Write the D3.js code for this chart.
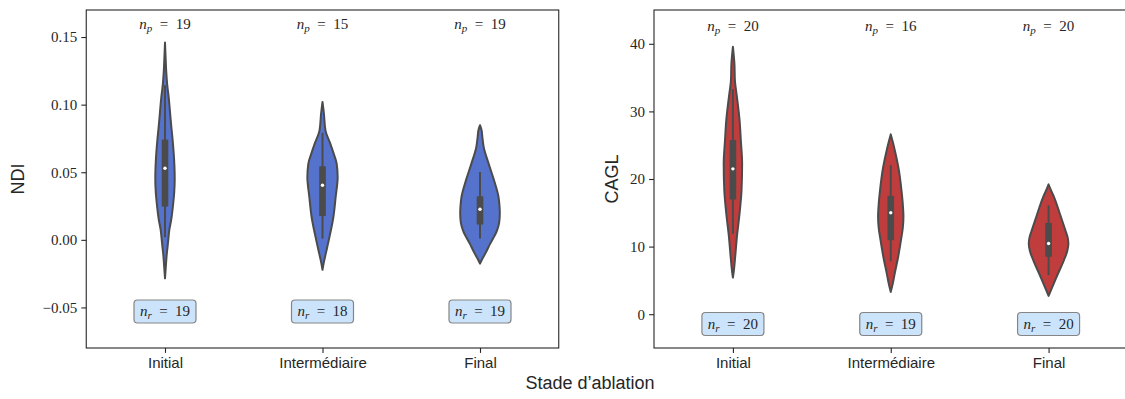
<!DOCTYPE html>
<html>
<head>
<meta charset="utf-8">
<script src="https://cdn.jsdelivr.net/npm/d3@7"></script>
<style>
  body { margin: 0; background: #fff; }
  svg { display: block; }
</style>
</head>
<body>
<script>
// categories and counts
var stages = ["Initial", "Intermédiaire", "Final"];
var ndiNp = [19, 15, 19];
var ndiNr = [19, 18, 19];
var caglNp = [20, 16, 20];
var caglNr = [20, 19, 20];

// violin outlines: [value, relative density]
var ndiInitial = [[0.146,0],[0.135,0.03],[0.125,0.06],[0.115,0.11],[0.105,0.19],[0.095,0.25],[0.085,0.31],[0.074,0.385],[0.065,0.435],[0.055,0.475],[0.045,0.49],[0.035,0.465],[0.025,0.40],[0.015,0.315],[0.007,0.215],[0,0.165],[-0.005,0.13],[-0.012,0.08],[-0.02,0.04],[-0.0285,0]];
var ndiInter = [[0.102,0],[0.0935,0.07],[0.081,0.15],[0.0713,0.39],[0.0638,0.565],[0.0564,0.715],[0.0465,0.765],[0.0317,0.665],[0.0169,0.55],[0.002,0.35],[-0.0102,0.165],[-0.016,0.075],[-0.0221,0]];
var ndiFinal = [[0.0848,0],[0.081,0.08],[0.076,0.12],[0.0687,0.185],[0.0564,0.435],[0.044,0.71],[0.0317,0.935],[0.025,0.985],[0.0194,1.0],[0.013,0.97],[0.007,0.86],[-0.0028,0.515],[-0.0102,0.265],[-0.014,0.12],[-0.0176,0]];
var caglInitial = [[39.56,0],[37.1,0.075],[34.6,0.10],[32.2,0.2],[28.7,0.335],[25.7,0.40],[22.3,0.465],[18.35,0.435],[14.9,0.335],[11.4,0.2],[8.5,0.115],[6.5,0.05],[5.43,0]];
var caglInter = [[26.6,0],[25.5,0.1],[24.3,0.2],[21.3,0.41],[18.35,0.54],[16.2,0.61],[14.4,0.64],[12.8,0.61],[11.4,0.54],[8.5,0.375],[6.0,0.2],[4.5,0.1],[3.3,0]];
var caglFinal = [[19.2,0],[18.3,0.125],[17.4,0.265],[14.9,0.565],[12.4,0.85],[11.4,0.96],[10.46,1.0],[9.3,0.94],[8.0,0.775],[5.5,0.4],[4.04,0.19],[2.7,0]];

// inner box stats
var ndiQ1 = [0.0246, 0.0176, 0.0113];
var ndiMedian = [0.053, 0.0404, 0.0226];
var ndiQ3 = [0.0742, 0.0544, 0.0322];
var ndiWhiskLo = [0.002, 0.0009, 0.0009];
var ndiWhiskHi = [0.1144, 0.0791, 0.0502];
var caglQ1 = [16.97, 10.95, 8.5];
var caglMedian = [21.5, 15.0, 10.45];
var caglQ3 = [25.75, 17.5, 13.5];
var caglWhiskLo = [11.9, 7.84, 5.77];
var caglWhiskHi = [33.3, 22.05, 16.1];

var ndiTicks = [-0.05, 0, 0.05, 0.10, 0.15];
var caglTicks = [0, 10, 20, 30, 40];

var W = 1125, H = 399;
var ink = "#262626", edge = "#4b4b4b";

var svg = d3.select("body").append("svg")
    .attr("width", W)
    .attr("height", H);

var panels = [
  { left: 86.25, right: 558.75, top: 10, bottom: 348, domain: [-0.08, 0.17], ticks: ndiTicks, fmt: d3.format(".2f"),
    label: "NDI", labelX: 18, fill: "#5573cd", profiles: [ndiInitial, ndiInter, ndiFinal],
    q1: ndiQ1, med: ndiMedian, q3: ndiQ3, lo: ndiWhiskLo, hi: ndiWhiskHi, np: ndiNp, nr: ndiNr,
    npY: 28.5, nrY: -0.053 },
  { left: 654, right: 1127.5, top: 10, bottom: 348, domain: [-5, 45], ticks: caglTicks, fmt: d3.format("d"),
    label: "CAGL", labelX: 612, fill: "#c03d3e", profiles: [caglInitial, caglInter, caglFinal],
    q1: caglQ1, med: caglMedian, q3: caglQ3, lo: caglWhiskLo, hi: caglWhiskHi, np: caglNp, nr: caglNr,
    npY: 30.7, nrY: -1.45 }
];

// math-like "n_sub = value"
function mathLabel(sel, sub, value) {
  sel.append("tspan").attr("font-style", "italic").text("n");
  sel.append("tspan").attr("font-style", "italic").attr("font-size", "11px").attr("dy", 3.5).text(sub);
  sel.append("tspan").attr("dy", -3.5).text("\u2002=\u2002" + value);
}

panels.forEach(function(p) {
  var x = d3.scalePoint().domain(stages).range([p.left, p.right]).padding(0.5);
  var y = d3.scaleLinear().domain(p.domain).range([p.bottom, p.top]);
  var w = d3.scaleLinear().domain([0, 1]).range([0, 19.8]);

  var g = svg.append("g");

  // y axis
  var ya = g.append("g")
      .attr("transform", "translate(" + p.left + ",0)")
      .call(d3.axisLeft(y).tickValues(p.ticks).tickFormat(p.fmt).tickSize(4.9).tickPadding(4.2));
  ya.select(".domain").remove();
  ya.selectAll("line").attr("stroke", ink).attr("stroke-width", 1.1);
  ya.selectAll("text").attr("fill", ink).attr("font-family", "'Liberation Serif', serif").attr("font-size", "15px");

  // x axis
  var xa = g.append("g")
      .attr("transform", "translate(0," + p.bottom + ")")
      .call(d3.axisBottom(x).tickSize(4.9).tickPadding(4.2));
  xa.select(".domain").remove();
  xa.selectAll("line").attr("stroke", ink).attr("stroke-width", 1.1);
  xa.selectAll("text").attr("fill", ink).attr("font-family", "'Liberation Sans', Arial, sans-serif").attr("font-size", "15px");

  // violins
  stages.forEach(function(s, i) {
    var cx = x(s);
    var area = d3.area()
        .curve(d3.curveMonotoneY)
        .y(function(d) { return y(d[0]); })
        .x0(function(d) { return cx - w(d[1]); })
        .x1(function(d) { return cx + w(d[1]); });
    g.append("path")
        .attr("d", area(p.profiles[i]))
        .attr("fill", p.fill)
        .attr("stroke", edge)
        .attr("stroke-width", 2)
        .attr("stroke-linejoin", "round");

    g.append("line")
        .attr("x1", cx).attr("x2", cx)
        .attr("y1", y(p.lo[i])).attr("y2", y(p.hi[i]))
        .attr("stroke", edge).attr("stroke-width", 2);
    g.append("rect")
        .attr("x", cx - 3.3).attr("width", 6.6)
        .attr("y", y(p.q3[i])).attr("height", y(p.q1[i]) - y(p.q3[i]))
        .attr("fill", edge);
    g.append("circle")
        .attr("cx", cx).attr("cy", y(p.med[i])).attr("r", 1.7)
        .attr("fill", "#fff");

    // n_p on top
    var tp = g.append("text")
        .attr("x", cx).attr("y", p.npY)
        .attr("text-anchor", "middle")
        .attr("fill", ink)
        .attr("font-family", "'Liberation Serif', serif")
        .attr("font-size", "15px");
    mathLabel(tp, "p", p.np[i]);

    // n_r in a rounded box
    var by = y(p.nrY);
    g.append("rect")
        .attr("x", cx - 31).attr("y", by - 11.5)
        .attr("width", 62).attr("height", 23)
        .attr("rx", 3.5)
        .attr("fill", "#cce4fb")
        .attr("stroke", "#858585")
        .attr("stroke-width", 1.2);
    var tr = g.append("text")
        .attr("x", cx).attr("y", by + 4.5)
        .attr("text-anchor", "middle")
        .attr("fill", ink)
        .attr("font-family", "'Liberation Serif', serif")
        .attr("font-size", "15px");
    mathLabel(tr, "r", p.nr[i]);
  });

  // frame
  g.append("rect")
      .attr("x", p.left).attr("y", p.top)
      .attr("width", p.right - p.left).attr("height", p.bottom - p.top)
      .attr("fill", "none")
      .attr("stroke", ink)
      .attr("stroke-width", 1.1);

  // y label
  g.append("text")
      .attr("transform", "translate(" + p.labelX + "," + ((p.top + p.bottom) / 2) + ") rotate(-90)")
      .attr("text-anchor", "middle")
      .attr("dy", "0.35em")
      .attr("fill", ink)
      .attr("font-family", "'Liberation Sans', Arial, sans-serif")
      .attr("font-size", "18px")
      .text(p.label);
});

svg.append("text")
    .attr("x", 590).attr("y", 389)
    .attr("text-anchor", "middle")
    .attr("fill", ink)
    .attr("font-family", "'Liberation Sans', Arial, sans-serif")
    .attr("font-size", "18px")
    .text("Stade d’ablation");
</script>
</body>
</html>
